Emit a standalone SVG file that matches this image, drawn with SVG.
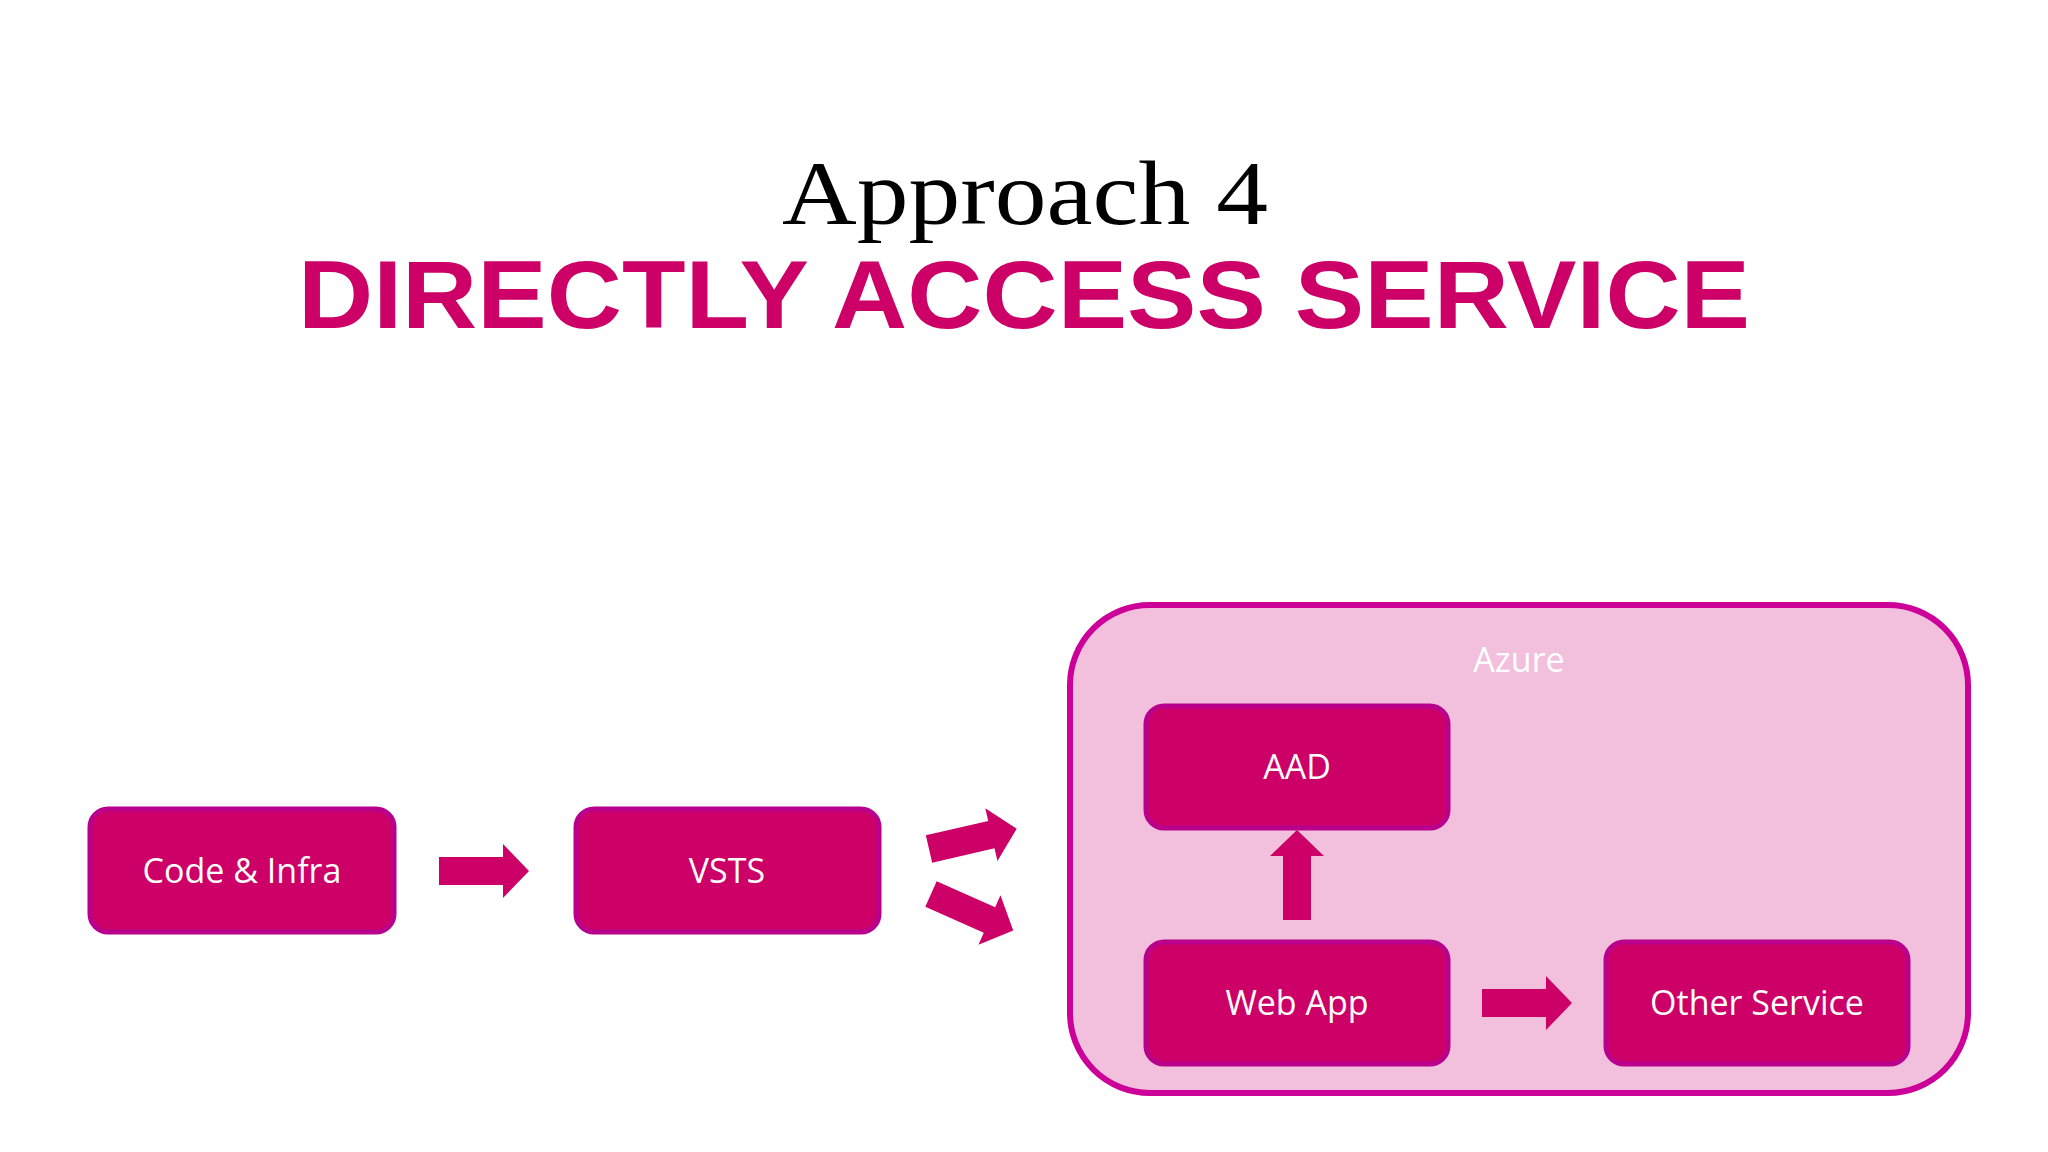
<svg xmlns="http://www.w3.org/2000/svg" width="2048" height="1152" viewBox="0 0 2048 1152">
<style>
.box{fill:#CC0066;stroke:#B8008C;stroke-width:5}
.lbl{font-family:"Open Sans","Noto Sans",sans-serif;font-size:34px;fill:#fff;text-anchor:middle}
.arr{fill:#CC0066}
</style>
<defs><path id="a" d="M0,-14 H64 V-27 L90,0 L64,27 V14 H0 Z"/></defs>
<rect width="2048" height="1152" fill="#fff"/>
<text x="1025" y="224" font-family="Liberation Serif,serif" font-size="90" text-anchor="middle" fill="#000" textLength="486" lengthAdjust="spacingAndGlyphs">Approach 4</text>
<text x="1024" y="328" font-family="Liberation Sans,Arial,sans-serif" font-weight="bold" font-size="96" text-anchor="middle" fill="#CC0066" textLength="1452" lengthAdjust="spacingAndGlyphs">DIRECTLY ACCESS SERVICE</text>
<g id="azure"><rect x="1070" y="605" width="898" height="488" rx="80" fill="#F2C0DC" stroke="#CC0099" stroke-width="6"/>
<text x="1519" y="672" class="lbl" font-size="31">Azure</text></g>
<g id="code"><rect class="box" x="90" y="809" width="304" height="123" rx="18"/><text class="lbl" x="242" y="883">Code &amp; Infra</text></g>
<g id="vsts"><rect class="box" x="576" y="809" width="303" height="123" rx="18"/><text class="lbl" x="727" y="883">VSTS</text></g>
<g id="aad"><rect class="box" x="1146" y="706" width="302" height="122" rx="18"/><text class="lbl" x="1297" y="779">AAD</text></g>
<g id="webapp"><rect class="box" x="1146" y="942" width="302" height="122" rx="18"/><text class="lbl" x="1297" y="1015">Web App</text></g>
<g id="other"><rect class="box" x="1606" y="942" width="302" height="122" rx="18"/><text class="lbl" x="1757" y="1015">Other Service</text></g>
<g id="connectors" class="arr">
<use href="#a" transform="translate(439,871)"/>
<use href="#a" transform="translate(929,849) rotate(-13)"/>
<use href="#a" transform="translate(931,894) rotate(24)"/>
<use href="#a" transform="translate(1297,920) rotate(-90)"/>
<use href="#a" transform="translate(1482,1003)"/>
</g>
</svg>
